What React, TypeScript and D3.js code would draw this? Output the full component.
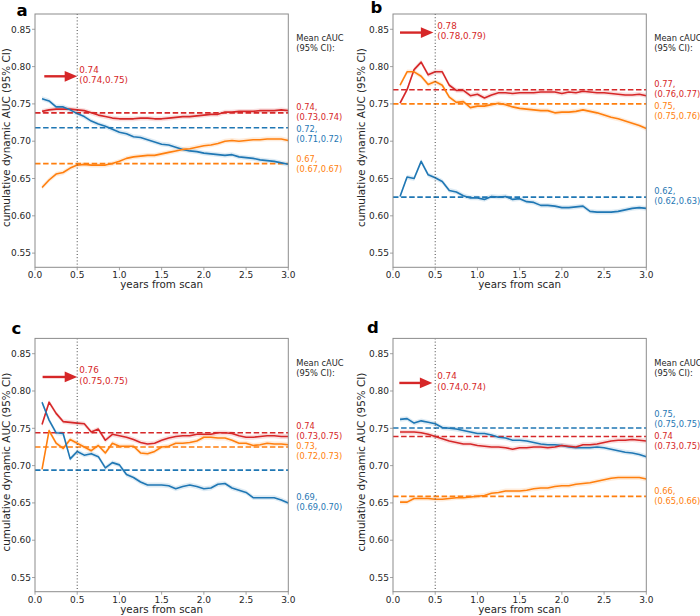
import React from 'react';
import * as d3 from 'd3';

// ---------- data ----------
const MONTHS = [1,2,3,4,5,6,7,8,9,10,11,12,13,14,15,16,17,18,19,20,21,22,23,24,25,26,27,28,29,30,31,32,33,34,35,36];
const X_TICKS = [0, 0.5, 1, 1.5, 2, 2.5, 3];
const Y_TICKS = [0.55, 0.6, 0.65, 0.7, 0.75, 0.8, 0.85];
const REF_YEAR = 0.5;

const RED = '#d62728';
const BLUE = '#1f77b4';
const ORANGE = '#ff7f0e';

// panel a
const aRed = [0.740,0.742,0.743,0.743,0.743,0.742,0.741,0.738,0.735,0.733,0.731,0.730,0.730,0.730,0.731,0.731,0.730,0.730,0.731,0.732,0.733,0.733,0.734,0.735,0.736,0.736,0.739,0.739,0.740,0.740,0.740,0.741,0.741,0.741,0.742,0.741];
const aBlue = [0.757,0.754,0.746,0.746,0.742,0.737,0.733,0.727,0.723,0.720,0.716,0.712,0.710,0.706,0.705,0.702,0.699,0.696,0.695,0.692,0.689,0.687,0.686,0.684,0.683,0.682,0.681,0.682,0.679,0.678,0.677,0.675,0.674,0.673,0.671,0.669];
const aOrange = [0.638,0.648,0.656,0.658,0.664,0.668,0.669,0.668,0.668,0.668,0.670,0.673,0.677,0.679,0.680,0.681,0.681,0.683,0.685,0.687,0.689,0.690,0.692,0.694,0.695,0.697,0.700,0.701,0.700,0.701,0.702,0.702,0.703,0.703,0.703,0.701];
const aMeans = [0.738, 0.718, 0.670];
const aLabelY = [0.739, 0.709, 0.670];
const aLabels = [['0.74,', '(0.73,0.74)'], ['0.72,', '(0.71,0.72)'], ['0.67,', '(0.67,0.67)']];
const aArrow = { y: 0.787, x0: 0.11, x1: 0.5, text: ['0.74', '(0.74,0.75)'] };

// panel b
const bRed = [0.751,0.769,0.796,0.806,0.789,0.793,0.793,0.775,0.768,0.768,0.761,0.763,0.758,0.762,0.765,0.765,0.764,0.765,0.765,0.765,0.766,0.766,0.766,0.764,0.766,0.765,0.767,0.766,0.765,0.765,0.764,0.763,0.762,0.762,0.763,0.761];
const bOrange = [0.775,0.793,0.793,0.787,0.776,0.780,0.775,0.759,0.752,0.753,0.745,0.747,0.747,0.749,0.751,0.749,0.746,0.744,0.743,0.742,0.741,0.741,0.738,0.739,0.739,0.740,0.742,0.740,0.738,0.735,0.732,0.730,0.727,0.724,0.721,0.717];
const bBlue = [0.626,0.652,0.650,0.673,0.655,0.651,0.646,0.634,0.632,0.627,0.624,0.624,0.622,0.626,0.625,0.626,0.622,0.623,0.619,0.618,0.614,0.614,0.613,0.611,0.611,0.612,0.613,0.606,0.605,0.605,0.605,0.606,0.608,0.610,0.611,0.610];
const bMeans = [0.769, 0.750, 0.625];
const bLabelY = [0.7696, 0.741, 0.626];
const bLabels = [['0.77,', '(0.76,0.77)'], ['0.75,', '(0.75,0.76)'], ['0.62,', '(0.62,0.63)']];
const bArrow = { y: 0.8456, x0: 0.083, x1: 0.478, text: ['0.78', '(0.78,0.79)'] };

// panel c
const cRed = [0.755,0.785,0.770,0.759,0.758,0.757,0.756,0.745,0.749,0.734,0.742,0.740,0.738,0.735,0.731,0.729,0.730,0.734,0.737,0.739,0.740,0.740,0.742,0.742,0.742,0.744,0.744,0.743,0.740,0.738,0.738,0.739,0.740,0.740,0.739,0.739];
const cOrange = [0.695,0.747,0.730,0.723,0.735,0.730,0.725,0.720,0.727,0.717,0.730,0.726,0.726,0.726,0.717,0.716,0.719,0.725,0.726,0.730,0.730,0.731,0.733,0.738,0.738,0.737,0.737,0.734,0.730,0.730,0.727,0.728,0.730,0.729,0.729,0.728];
const cBlue = [0.785,0.761,0.744,0.743,0.709,0.719,0.714,0.716,0.712,0.697,0.704,0.701,0.688,0.684,0.678,0.674,0.674,0.674,0.673,0.669,0.672,0.674,0.672,0.669,0.670,0.675,0.676,0.670,0.667,0.664,0.657,0.657,0.657,0.657,0.654,0.650];
const cMeans = [0.744, 0.725, 0.694];
const cLabelY = [0.746, 0.7196, 0.6507];
const cLabels = [['0.74', '(0.73,0.75)'], ['0.73,', '(0.72,0.73)'], ['0.69,', '(0.69,0.70)']];
const cArrow = { y: 0.8188, x0: 0.09, x1: 0.5, text: ['0.76', '(0.75,0.75)'] };

// panel d
const dBlue = [0.762,0.763,0.757,0.760,0.758,0.756,0.751,0.750,0.749,0.747,0.745,0.743,0.743,0.741,0.738,0.737,0.734,0.734,0.733,0.731,0.729,0.728,0.728,0.727,0.725,0.724,0.724,0.724,0.725,0.724,0.722,0.720,0.718,0.717,0.715,0.712];
const dRed = [0.745,0.745,0.745,0.744,0.742,0.739,0.736,0.733,0.731,0.729,0.729,0.727,0.726,0.725,0.725,0.724,0.722,0.724,0.724,0.725,0.725,0.724,0.725,0.727,0.726,0.725,0.728,0.728,0.729,0.731,0.733,0.734,0.734,0.735,0.734,0.733];
const dOrange = [0.651,0.651,0.656,0.656,0.656,0.655,0.655,0.656,0.657,0.657,0.658,0.659,0.660,0.663,0.664,0.666,0.666,0.666,0.667,0.669,0.670,0.670,0.672,0.673,0.673,0.675,0.676,0.677,0.679,0.681,0.683,0.684,0.684,0.684,0.684,0.682];
const dMeans = [0.7505, 0.739, 0.6587];
const dLabelY = [0.7626, 0.733, 0.6587];
const dLabels = [['0.75,', '(0.75,0.75)'], ['0.74', '(0.73,0.75)'], ['0.66,', '(0.65,0.66)']];
const dArrow = { y: 0.8108, x0: 0.075, x1: 0.466, text: ['0.74', '(0.74,0.74)'] };

const HEADER = ['Mean cAUC', '(95% CI):'];
const HEADER_Y = 0.831;
const Y_LABEL = 'cumulative dynamic AUC (95% CI)';
const X_LABEL = 'years from scan';
const CI_HALF = 0.0032;

// ---------- layout ----------
const PW = 253.3;
const PH = 253.3;
const Y_DOMAIN = [0.531, 0.8705];
const FONT = '"DejaVu Sans", sans-serif';

type Series = { color: string; values: number[]; mean: number; labelY: number; label: string[] };
type Arrow = { y: number; x0: number; x1: number; text: string[] };
type Panel = {
  id: string; letter: string; left: number; top: number;
  letterX: number; letterY: number; ylabelX: number;
  series: Series[]; arrow: Arrow;
};

const mk = (colors: string[], vals: number[][], means: number[], ly: number[], labels: string[][]): Series[] =>
  colors.map((c, i) => ({ color: c, values: vals[i], mean: means[i], labelY: ly[i], label: labels[i] }));

const PANELS: Panel[] = [
  { id: 'a', letter: 'a', left: 35, top: 14, letterX: 16.5, letterY: 15.5, ylabelX: 9.5,
    series: mk([RED, BLUE, ORANGE], [aRed, aBlue, aOrange], aMeans, aLabelY, aLabels), arrow: aArrow },
  { id: 'b', letter: 'b', left: 393, top: 14, letterX: 370.5, letterY: 13, ylabelX: 364.5,
    series: mk([RED, ORANGE, BLUE], [bRed, bOrange, bBlue], bMeans, bLabelY, bLabels), arrow: bArrow },
  { id: 'c', letter: 'c', left: 35, top: 338.4, letterX: 11.5, letterY: 334, ylabelX: 9.5,
    series: mk([RED, ORANGE, BLUE], [cRed, cOrange, cBlue], cMeans, cLabelY, cLabels), arrow: cArrow },
  { id: 'd', letter: 'd', left: 393, top: 338.4, letterX: 367, letterY: 333, ylabelX: 364.5,
    series: mk([BLUE, RED, ORANGE], [dBlue, dRed, dOrange], dMeans, dLabelY, dLabels), arrow: dArrow },
];

function TwoLines({ lines, x, cy, fs, gap, color, shift }: { lines: string[]; x: number; cy: number; fs: number; gap: number; color: string; shift: number }) {
  const first = cy - gap / 2 + shift;
  return (
    <text x={x} y={first} fontSize={fs} fill={color} fontFamily={FONT}>
      <tspan x={x} y={first}>{lines[0]}</tspan>
      <tspan x={x} y={first + gap}>{lines[1]}</tspan>
    </text>
  );
}

function PanelView({ p }: { p: Panel }) {
  const x = d3.scaleLinear().domain([0, 3]).range([0, PW]);
  const y = d3.scaleLinear().domain(Y_DOMAIN).range([PH, 0]);
  const line = d3.line<number>().x((_, i) => x(MONTHS[i] / 12)).y(d => y(d));
  const area = d3.area<number>().x((_, i) => x(MONTHS[i] / 12)).y0(d => y(d - CI_HALF)).y1(d => y(d + CI_HALF));
  const clipId = `clip-${p.id}`;
  const ay = y(p.arrow.y);
  const ax0 = x(p.arrow.x0);
  const ax1 = x(p.arrow.x1);
  const headLen = 12.5;
  const headHalf = 5.4;
  return (
    <g transform={`translate(${p.left},${p.top})`}>
      <defs>
        <clipPath id={clipId}><rect x={0} y={0} width={PW} height={PH} /></clipPath>
      </defs>
      <g clipPath={`url(#${clipId})`}>
        {p.series.map((s, i) => (
          <path key={`band${i}`} d={area(s.values) || ''} fill={s.color} opacity={0.15} />
        ))}
        {p.series.map((s, i) => (
          <line key={`mean${i}`} x1={0} x2={PW} y1={y(s.mean)} y2={y(s.mean)} stroke={s.color} strokeWidth={1.6} strokeDasharray="5.5,2.6" />
        ))}
        {p.series.map((s, i) => (
          <path key={`line${i}`} d={line(s.values) || ''} fill="none" stroke={s.color} strokeWidth={1.6} strokeLinejoin="round" />
        ))}
        <line x1={x(REF_YEAR)} x2={x(REF_YEAR)} y1={0} y2={PH} stroke="#444" strokeWidth={1} strokeDasharray="1,2.2" />
      </g>
      {/* frame */}
      <rect x={0} y={0} width={PW} height={PH} fill="none" stroke="#8c8c8c" strokeWidth={1} />
      {/* y ticks */}
      {Y_TICKS.map(t => (
        <g key={`yt${t}`} transform={`translate(0,${y(t)})`}>
          <line x1={-3} x2={0} stroke="#8c8c8c" strokeWidth={0.8} />
          <text x={-4} dy="0.36em" textAnchor="end" fontSize={9} fill="#262626" fontFamily={FONT}>{t.toFixed(2)}</text>
        </g>
      ))}
      {/* x ticks */}
      {X_TICKS.map(t => (
        <g key={`xt${t}`} transform={`translate(${x(t)},${PH})`}>
          <line y1={0} y2={3} stroke="#8c8c8c" strokeWidth={0.8} />
          <text y={11.2} textAnchor="middle" fontSize={9} fill="#262626" fontFamily={FONT}>{t.toFixed(1)}</text>
        </g>
      ))}
      <text x={PW / 2} y={PH + 21} textAnchor="middle" fontSize={10.3} fill="#262626" fontFamily={FONT}>{X_LABEL}</text>
      <text transform={`translate(${p.ylabelX - p.left},${PH / 2 - 3}) rotate(-90)`} textAnchor="middle" fontSize={10.4} fill="#262626" fontFamily={FONT}>{Y_LABEL}</text>
      {/* arrow */}
      <line x1={ax0} x2={ax1 - headLen + 1} y1={ay} y2={ay} stroke={RED} strokeWidth={2.4} />
      <path d={`M${ax1},${ay} L${ax1 - headLen},${ay - headHalf} L${ax1 - headLen},${ay + headHalf} Z`} fill={RED} />
      <TwoLines lines={p.arrow.text} x={x(REF_YEAR) + 2} cy={ay} fs={8.8} gap={10.4} color={RED} shift={1.7} />
      {/* header */}
      <TwoLines lines={HEADER} x={PW + 8} cy={y(HEADER_Y)} fs={8.3} gap={10} color="#262626" shift={3} />
      {/* right labels */}
      {p.series.map((s, i) => (
        <TwoLines key={`lab${i}`} lines={s.label} x={PW + 8} cy={y(s.labelY)} fs={8.3} gap={10} color={s.color} shift={3} />
      ))}
      <text x={p.letterX - p.left} y={p.letterY - p.top} fontSize={16.5} fontWeight="bold" fill="#000" fontFamily={FONT}>{p.letter}</text>
    </g>
  );
}

export default function App() {
  return (
    <svg width={700} height={616} viewBox="0 0 700 616" style={{ position: 'absolute', left: 0, top: 0, background: '#fff' }}>
      <rect x={0} y={0} width={700} height={616} fill="#fff" />
      {PANELS.map(p => <PanelView key={p.id} p={p} />)}
    </svg>
  );
}
